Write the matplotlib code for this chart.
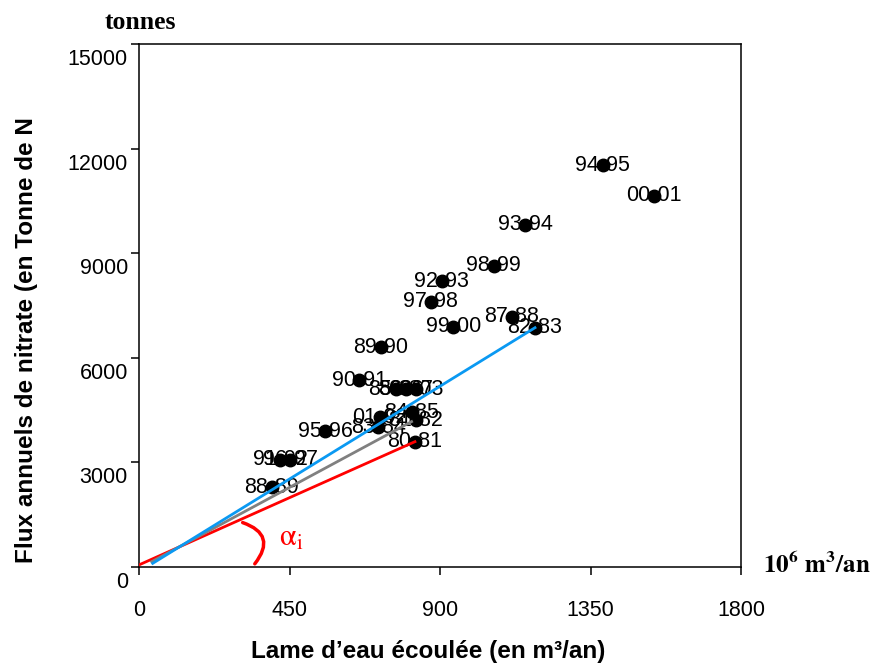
import numpy as np
import matplotlib
matplotlib.use('Agg')
import matplotlib.pyplot as plt
from matplotlib.patches import FancyArrowPatch
from matplotlib.transforms import ScaledTranslation

plt.rcParams['font.family'] = ['Liberation Sans', 'DejaVu Sans']
plt.rcParams['mathtext.fontset'] = 'stix'

# hydrological years: flow (10^6 m3/an) vs nitrate flux (tonnes N)
years = ['80-81', '81-82', '82-83', '83-84', '84-85', '85-86', '86-87', '87-88',
         '88-89', '89-90', '90-91', '91-92', '92-93', '93-94', '94-95', '95-96',
         '96-97', '97-98', '98-99', '99-00', '00-01', '01-02', '02-03']
flow = [825, 828, 1184, 715, 816, 768, 798, 1114,
        397, 723, 659, 422, 905, 1154, 1386, 556,
        452, 872, 1061, 940, 1540, 721, 828]
flux = [3594, 4216, 6863, 4015, 4445, 5105, 5105, 7178,
        2286, 6301, 5363, 3069, 8202, 9809, 11529, 3900,
        3069, 7609, 8641, 6893, 10649, 4302, 5105]

# slope lines
red_x, red_y = [0, 825], [60, 3594]
grey_x, grey_y = [38, 815], [152, 4170]
blue_x, blue_y = [41, 1184], [105, 6863]

xticks = [0, 450, 900, 1350, 1800]
yticks = [0, 3000, 6000, 9000, 12000, 15000]

fig = plt.figure(figsize=(8.74, 6.64), dpi=100)
ax = fig.add_axes([139/874, 1 - 567/664, (741 - 139)/874, (567 - 44)/664])

for yr, x, y in zip(years, flow, flux):
    ax.text(x, y, yr, fontsize=15.5, ha='center', va='center', zorder=3)
ax.plot(flow, flux, 'o', color='black', markersize=9, zorder=4)

ax.plot(red_x, red_y, color='#FF0000', lw=2, zorder=5)
ax.plot(grey_x, grey_y, color='#808080', lw=2, zorder=5)
ax.plot(blue_x, blue_y, color='#0A99F2', lw=2, zorder=5)

# angle mark
arc = FancyArrowPatch((302, 1299), (341, 29), connectionstyle='arc3,rad=-0.75',
                      arrowstyle='-', color='#FF0000', lw=2.5, zorder=5)
ax.add_patch(arc)
ax.text(455, 830, r'$\mathrm{\alpha}_\mathrm{i}$', color='#FF0000', fontsize=22,
        ha='center', va='center')

ax.set_xlim(0, 1800)
ax.set_ylim(0, 15000)
ax.set_xticks(xticks)
ax.set_yticks(yticks)
for s in ax.spines.values():
    s.set_linewidth(1.1)
ax.tick_params(axis='both', direction='out', length=6, width=1.1, labelsize=15.5)
ax.tick_params(axis='x', pad=18)
ax.tick_params(axis='y', pad=2)
off = ScaledTranslation(0, -13/100, fig.dpi_scale_trans)
for lab in ax.get_yticklabels():
    lab.set_transform(lab.get_transform() + off)

fig.text(140/874, 1 - 29/664, 'tonnes', family='Liberation Serif', weight='bold',
         fontsize=18.5, ha='center', va='baseline')
fig.text(763/874, 1 - 573/664, r'$\mathbf{10^6\ m^3/an}$', fontsize=18,
         ha='left', va='baseline')
fig.text(428/874, 1 - 658/664, 'Lame d\u2019eau écoulée (en m³/an)', weight='bold',
         fontsize=17.5, ha='center', va='baseline')
fig.text(27/874, 1 - 340/664, 'Flux annuels de nitrate (en Tonne de N', weight='bold',
         fontsize=17.5, ha='center', va='center', rotation=90)

fig.savefig('out.png', dpi=100)
